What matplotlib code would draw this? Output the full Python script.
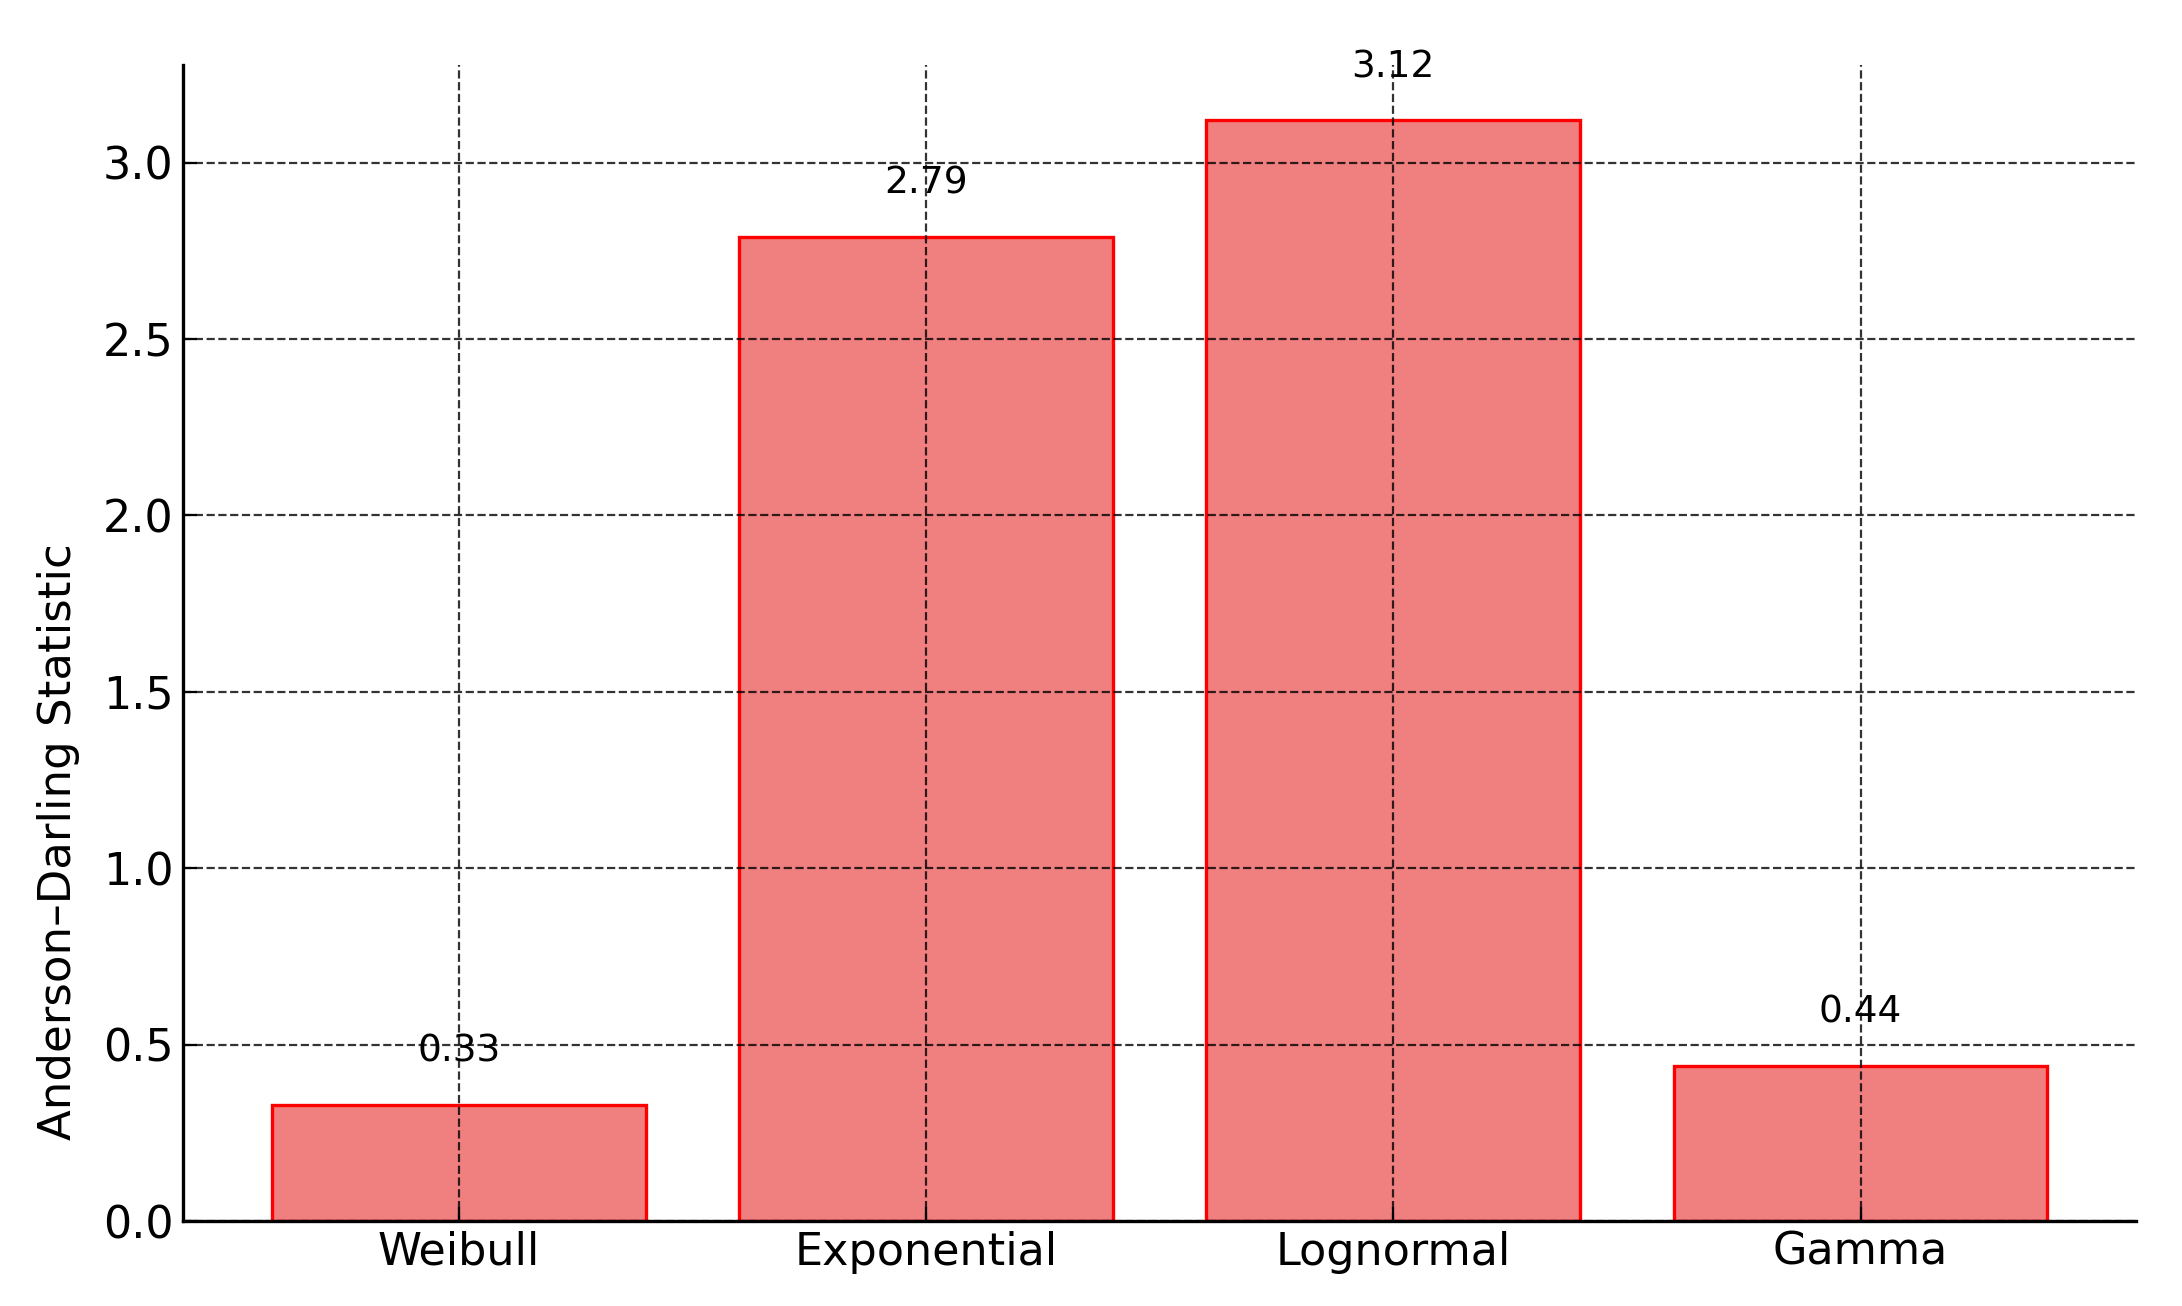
import matplotlib
matplotlib.use("Agg")
from matplotlib import pyplot as plt

# Anderson-Darling statistics per fitted distribution
distributions = ["Weibull", "Exponential", "Lognormal", "Gamma"]
ad_stats = [0.33, 2.79, 3.12, 0.44]


def main():
    fig = plt.figure(figsize=(10.91, 6.53), dpi=200)
    ax = fig.add_axes([0.084, 0.065, 0.895, 0.885])

    bars = ax.bar(distributions, ad_stats, width=0.8,
                  color="lightcoral", edgecolor="red", linewidth=1.2)

    for rect, val in zip(bars, ad_stats):
        ax.text(rect.get_x() + rect.get_width() / 2, val + 0.1, "%.2f" % val,
                ha="center", va="bottom", fontsize=13.5)

    ax.set_ylabel("Anderson\u2013Darling Statistic", fontsize=16.2)
    ax.yaxis.set_label_coords(-0.053, 0.328)
    ax.tick_params(axis="both", labelsize=16, direction="in", length=5)
    ax.grid(True, linestyle="--", color="black", linewidth=0.8, alpha=0.8)

    ax.spines["top"].set_visible(False)
    ax.spines["right"].set_visible(False)
    ax.spines["left"].set_linewidth(1.2)
    ax.spines["bottom"].set_linewidth(1.2)

    fig.savefig("out.png", dpi=200)


if __name__ == "__main__":
    main()
